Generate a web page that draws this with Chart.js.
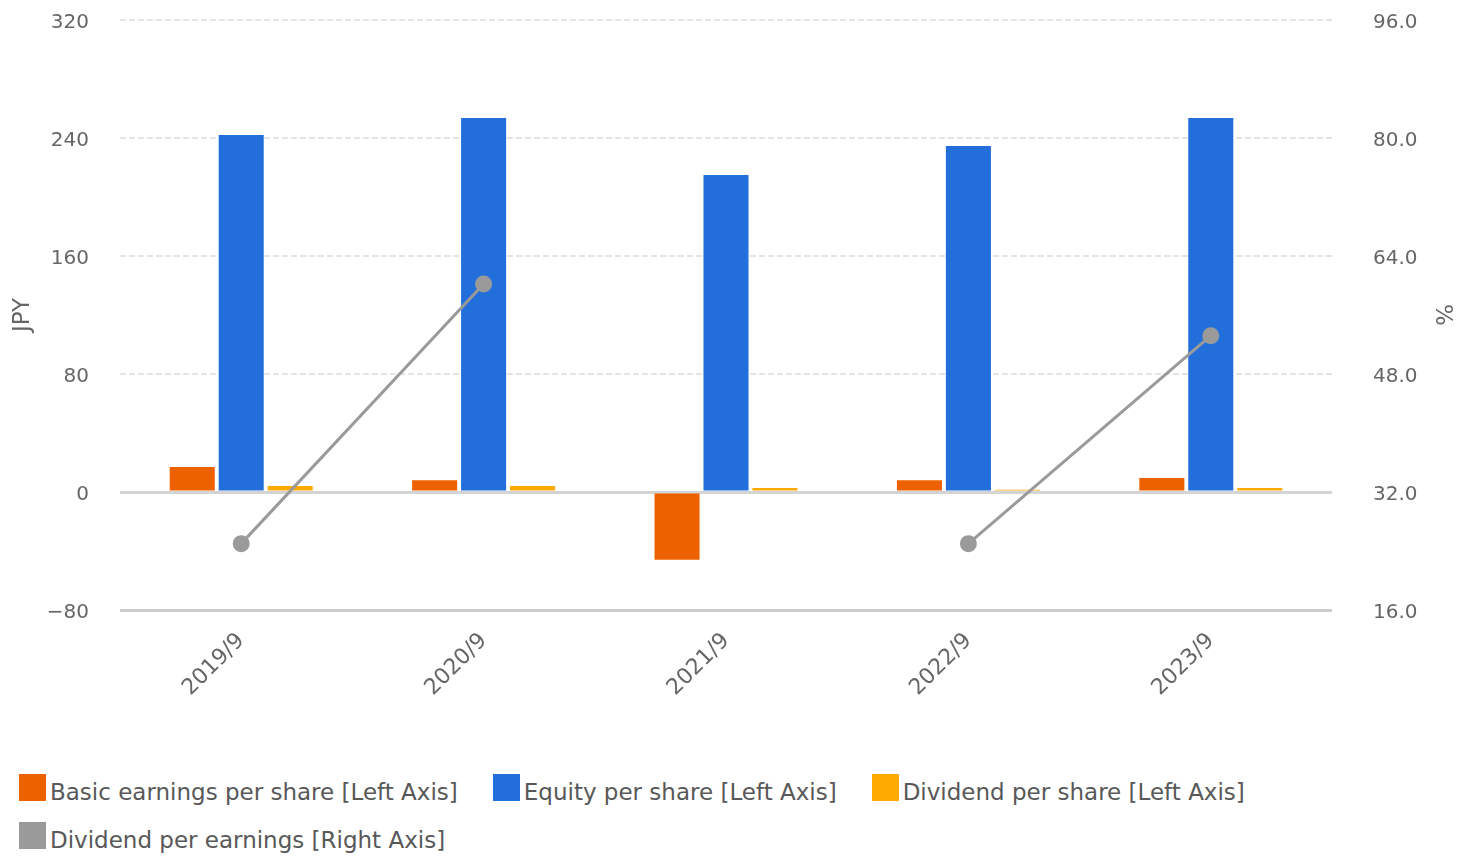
<!DOCTYPE html>
<html>
<head>
<meta charset="utf-8">
<script src="https://cdn.jsdelivr.net/npm/chart.js@4.4.0/dist/chart.umd.min.js"></script>
<style>
  body { margin: 0; background: #fff; }
  #wrap { position: relative; width: 1469px; height: 856px; }
  #legend {
    position: absolute; left: 19px; top: 774px; width: 1440px;
    display: flex; flex-wrap: wrap; row-gap: 21px; column-gap: 35px;
    font-family: "DejaVu Sans", sans-serif; font-size: 23px; color: #585858;
  }
  .item { display: flex; align-items: center; height: 27px; white-space: nowrap; }
  .box { width: 27px; height: 27px; margin-right: 4px; }
  .item span:last-child { position: relative; top: 4px; }
</style>
</head>
<body>
<div id="wrap">
  <canvas id="chart" width="1469" height="740"></canvas>
  <div id="legend"></div>
</div>
<script>
const categories = ['2019/9', '2020/9', '2021/9', '2022/9', '2023/9'];
const basicEps = [17, 8, -46, 8, 9.5];
const equityPerShare = [242, 253.5, 215, 234.5, 253.5];
const dividendPerShare = [4, 4, 2.7, 1.5, 2.7];
const payoutRatio = [25, 60.2, null, 25, 53.2];

const seriesNames = [
  'Basic earnings per share [Left Axis]',
  'Equity per share [Left Axis]',
  'Dividend per share [Left Axis]',
  'Dividend per earnings [Right Axis]'
];
const seriesColors = ['#ee6100', '#226fdb', '#ffaa00', '#9a9a9a'];

const tickFont = { family: "'DejaVu Sans'", size: 20 };
const xFont = { family: "'DejaVu Sans'", size: 22 };
const titleFont = { family: "'DejaVu Sans'", size: 23 };
const minus = v => String(v).replace('-', '\u2212');
const solidAt = c => c.tick && (c.tick.value === 0 || c.tick.value === -80);
const clear = 'rgba(0,0,0,0)';

function barSet(i, data) {
  return {
    type: 'bar', label: seriesNames[i], data,
    backgroundColor: seriesColors[i], yAxisID: 'y', order: 1,
    categoryPercentage: 0.606, barPercentage: 0.92
  };
}

new Chart(document.getElementById('chart'), {
  data: {
    labels: categories,
    datasets: [
      barSet(0, basicEps),
      barSet(1, equityPerShare),
      barSet(2, dividendPerShare),
      {
        type: 'line', label: seriesNames[3], data: payoutRatio, yAxisID: 'y1', order: 0,
        borderColor: seriesColors[3], backgroundColor: seriesColors[3],
        borderWidth: 3, pointRadius: 7, pointHoverRadius: 7, spanGaps: false
      }
    ]
  },
  options: {
    responsive: false,
    animation: false,
    layout: { padding: { top: 20 } },
    plugins: { legend: { display: false }, tooltip: { enabled: false } },
    scales: {
      x: {
        grid: { display: false }, border: { display: false },
        ticks: { font: xFont, color: '#666', minRotation: 45, maxRotation: 45, padding: 10 },
        afterFit: s => { s.height = 130; }
      },
      y: {
        position: 'left', min: -80, max: 320,
        ticks: { stepSize: 80, font: tickFont, color: '#666', padding: 0, labelOffset: 3, callback: v => minus(v) },
        grid: {
          tickLength: 31, tickColor: clear,
          color: c => (c.tick && c.tick.value === 0) ? '#d4d4d4' : (c.tick && c.tick.value === -80 ? '#cccccc' : '#e4e4e4'),
          lineWidth: c => solidAt(c) ? 3 : 2
        },
        border: { display: false, dash: c => solidAt(c) ? [] : [6, 3] },
        title: { display: true, text: 'JPY', font: titleFont, color: '#666', padding: 9 },
        afterFit: s => { s.width = 120; }
      },
      y1: {
        position: 'right', min: 16, max: 96,
        ticks: { stepSize: 16, font: tickFont, color: '#666', padding: 0, labelOffset: 3, callback: v => v.toFixed(1) },
        grid: { drawOnChartArea: false, tickLength: 41, tickColor: clear },
        border: { display: false },
        title: { display: true, text: '%', font: titleFont, color: '#666', padding: 13 },
        afterFit: s => { s.width = 137; }
      }
    }
  }
});

const legend = document.getElementById('legend');
seriesNames.forEach((name, i) => {
  const item = document.createElement('div');
  item.className = 'item';
  const box = document.createElement('span');
  box.className = 'box';
  box.style.background = seriesColors[i];
  const text = document.createElement('span');
  text.textContent = name;
  item.appendChild(box);
  item.appendChild(text);
  legend.appendChild(item);
});
</script>
</body>
</html>
